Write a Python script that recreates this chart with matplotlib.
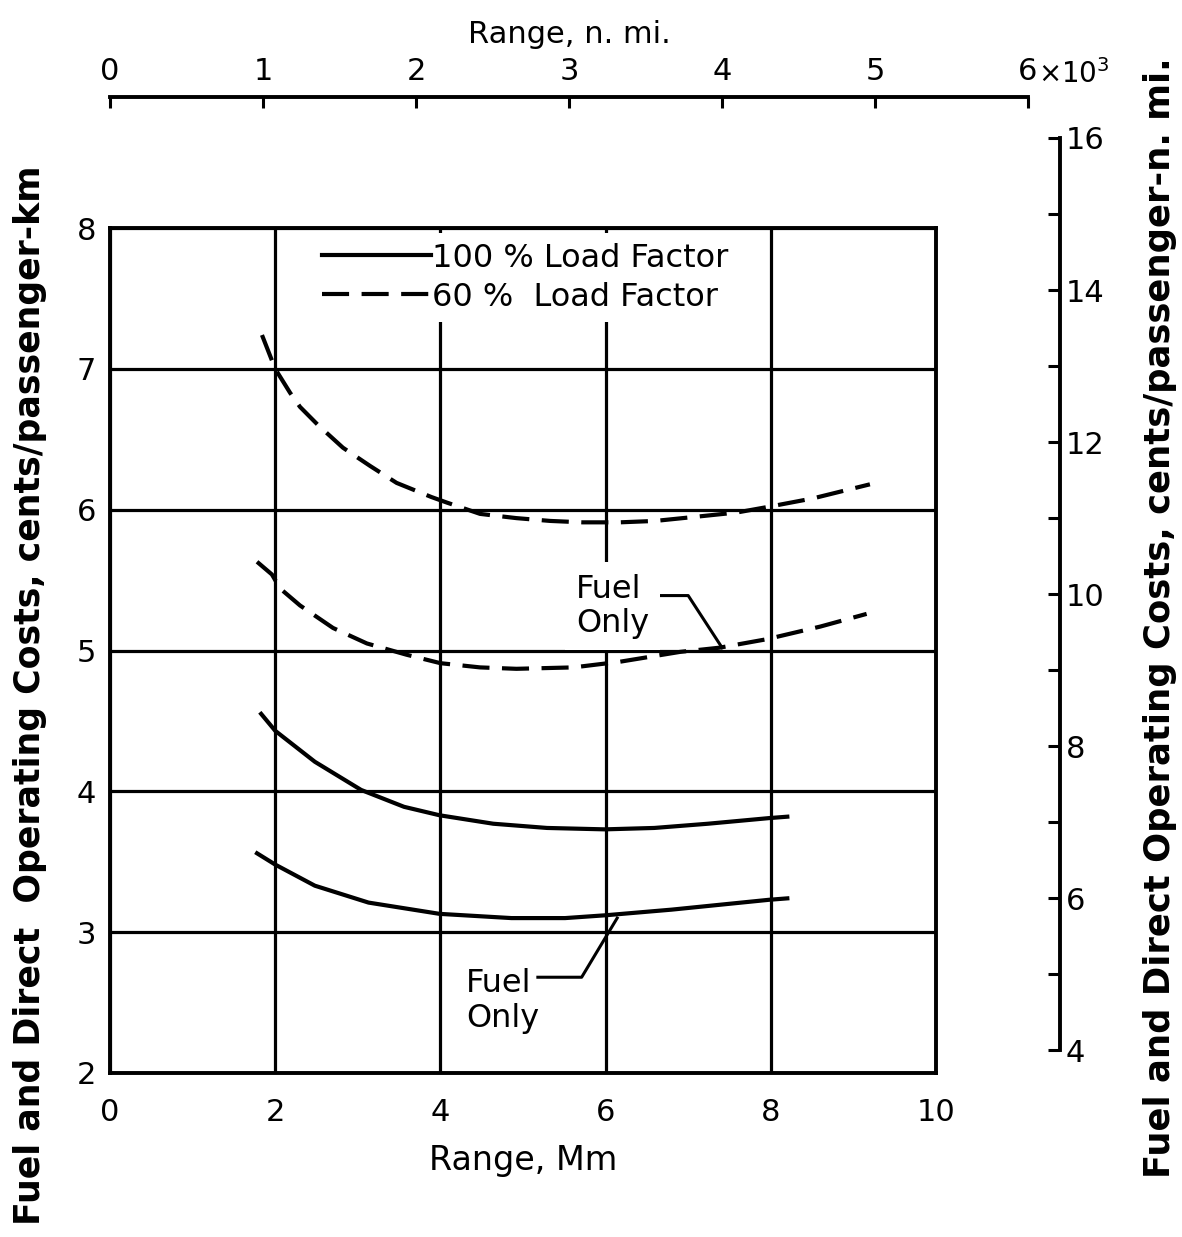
import numpy as np
import matplotlib
matplotlib.use("Agg")
import matplotlib.pyplot as plt
from matplotlib.ticker import MultipleLocator

# Range in Mm, costs in cents/passenger-km
range_doc_60 = [1.84, 2.0, 2.18, 2.30, 2.52, 2.82, 3.15, 3.47, 3.89, 4.08, 4.48,
                4.92, 5.33, 5.72, 6.17, 6.60, 7.10, 7.59, 7.97, 8.51, 9.20]
cost_doc_60 = [7.24, 7.0, 6.83, 6.73, 6.60, 6.44, 6.31, 6.19, 6.09, 6.05, 5.97,
               5.94, 5.92, 5.91, 5.91, 5.92, 5.95, 5.98, 6.02, 6.08, 6.18]

range_fuel_60 = [1.78, 1.96, 2.06, 2.30, 2.70, 3.11, 3.59, 4.0, 4.48, 4.92, 5.61,
                 6.17, 6.90, 7.38, 7.95, 8.60, 9.16]
cost_fuel_60 = [5.63, 5.54, 5.44, 5.32, 5.16, 5.05, 4.97, 4.91, 4.88, 4.87, 4.88,
                4.92, 4.99, 5.02, 5.08, 5.17, 5.26]

range_doc_100 = [1.83, 2.0, 2.48, 3.04, 3.56, 3.99, 4.64, 5.29, 5.99, 6.59, 7.24,
                 7.98, 8.20]
cost_doc_100 = [4.55, 4.43, 4.21, 4.01, 3.89, 3.83, 3.77, 3.74, 3.73, 3.74, 3.77,
                3.81, 3.82]

range_fuel_100 = [1.78, 2.0, 2.48, 3.13, 3.99, 4.86, 5.51, 6.0, 6.80, 7.98, 8.20]
cost_fuel_100 = [3.56, 3.48, 3.33, 3.21, 3.13, 3.10, 3.10, 3.12, 3.16, 3.23, 3.24]

# leader lines for the "Fuel Only" notes
leader_upper_x = [6.55, 7.0, 7.41]
leader_upper_y = [5.39, 5.39, 5.02]
leader_lower_x = [5.18, 5.71, 6.14]
leader_lower_y = [2.68, 2.68, 3.10]

KM_PER_NMI = 1.852
x_ticks = [0, 2, 4, 6, 8, 10]
y_ticks = [2, 3, 4, 5, 6, 7, 8]
nmi_ticks = [0, 1, 2, 3, 4, 5, 6]
nmi_labels = ["0", "1", "2", "3", "4", "5", "6"]
right_ticks = [4, 6, 8, 10, 12, 14, 16]

plt.rcParams['font.family'] = ['DejaVu Sans']

W_PX, H_PX = 1182, 1237
fig = plt.figure(figsize=(W_PX / 100, H_PX / 100), dpi=100)

left, right_px, top, bottom = 110, 936, 228, 1073
L = left / W_PX
W = (right_px - left) / W_PX
B = (H_PX - bottom) / H_PX
H = (bottom - top) / H_PX

ax = fig.add_axes([L, B, W, H])
ax.set_xlim(0, 10)
ax.set_ylim(2, 8)
ax.set_xticks(x_ticks)
ax.set_yticks(y_ticks)
ax.tick_params(length=0, labelsize=22, pad=10)
ax.tick_params(axis='x', pad=18)
ax.grid(True, color='black', linewidth=2.3, zorder=1)
for s in ax.spines.values():
    s.set_linewidth(2.8)
ax.set_xlabel("Range, Mm", fontsize=24, labelpad=12)

lw = 3.0
dash = (6.5, 3)
l100, = ax.plot(range_doc_100, cost_doc_100, color='black', lw=lw, zorder=3,
                label="100 % Load Factor")
ax.plot(range_fuel_100, cost_fuel_100, color='black', lw=lw, zorder=3)
l60, = ax.plot(range_doc_60, cost_doc_60, color='black', lw=lw, dashes=dash,
               zorder=3, label="60 %  Load Factor")
ax.plot(range_fuel_60, cost_fuel_60, color='black', lw=lw, dashes=dash, zorder=3)

# notes
ax.text(5.64, 5.08, "Fuel\nOnly", fontsize=23, ha='left', va='bottom',
        linespacing=1.15, zorder=4,
        bbox=dict(facecolor='white', edgecolor='none', pad=8))
ax.plot(leader_upper_x, leader_upper_y, color='black', lw=2.2, zorder=3)
ax.text(4.31, 2.28, "Fuel\nOnly", fontsize=23, ha='left', va='bottom',
        linespacing=1.15, zorder=4)
ax.plot(leader_lower_x, leader_lower_y, color='black', lw=2.2, zorder=3)

leg = ax.legend(handles=[l100, l60], loc='upper left',
                bbox_to_anchor=(0.245, 0.994), fontsize=23, frameon=True,
                fancybox=False, edgecolor='none', facecolor='white',
                framealpha=1, handlelength=3.4, handletextpad=0.05,
                labelspacing=0.25, borderpad=0.3, borderaxespad=0)
leg.set_zorder(5)

# top axis in nautical miles (thousands)
top_w = W * (nmi_ticks[-1] * KM_PER_NMI) / 10
top_y = (H_PX - 97) / H_PX
ax_top = fig.add_axes([L, top_y, top_w, 1e-4])
ax_top.set_xlim(nmi_ticks[0], nmi_ticks[-1])
ax_top.patch.set_visible(False)
for k in ['left', 'right', 'bottom']:
    ax_top.spines[k].set_visible(False)
ax_top.spines['top'].set_linewidth(2.8)
ax_top.set_yticks([])
ax_top.xaxis.set_ticks_position('top')
ax_top.xaxis.set_label_position('top')
ax_top.set_xticks(nmi_ticks)
ax_top.set_xticklabels(nmi_labels)
ax_top.tick_params(axis='x', direction='in', length=8, width=2.2, labelsize=22, pad=8)
ax_top.set_xlabel("Range, n. mi.", fontsize=22, labelpad=10)
ax_top.annotate(r"$\times$10$^3$", xy=(nmi_ticks[-1], 1),
                xycoords=ax_top.get_xaxis_transform(), xytext=(7, 5.5),
                textcoords='offset points', fontsize=20, ha='left', va='bottom')

# right axis in cents/passenger-n. mi.
y_lo = 2 * KM_PER_NMI
y_hi = right_ticks[-1]
r_h = H * (y_hi - y_lo) / (6 * KM_PER_NMI)
ax_r = fig.add_axes([1060 / W_PX, B, 1e-4, r_h])
ax_r.set_ylim(y_lo, y_hi)
ax_r.patch.set_visible(False)
for k in ['left', 'top', 'bottom']:
    ax_r.spines[k].set_visible(False)
ax_r.spines['right'].set_linewidth(2.8)
ax_r.spines['right'].set_bounds(right_ticks[0], right_ticks[-1])
ax_r.set_xticks([])
ax_r.yaxis.set_ticks_position('right')
ax_r.set_yticks(right_ticks)
ax_r.yaxis.set_minor_locator(MultipleLocator(1))
ax_r.tick_params(axis='y', which='both', direction='in', length=9, width=2.2,
                 labelsize=22, pad=4)

fig.text(30 / W_PX, 0.438, "Fuel and Direct  Operating Costs, cents/passenger-km",
         rotation=90, ha='center', va='center', fontsize=25, fontweight='bold')
fig.text(1160 / W_PX, 0.501, "Fuel and Direct Operating Costs, cents/passenger-n. mi.",
         rotation=90, ha='center', va='center', fontsize=25.5, fontweight='bold')

fig.savefig("out.png", dpi=100)
